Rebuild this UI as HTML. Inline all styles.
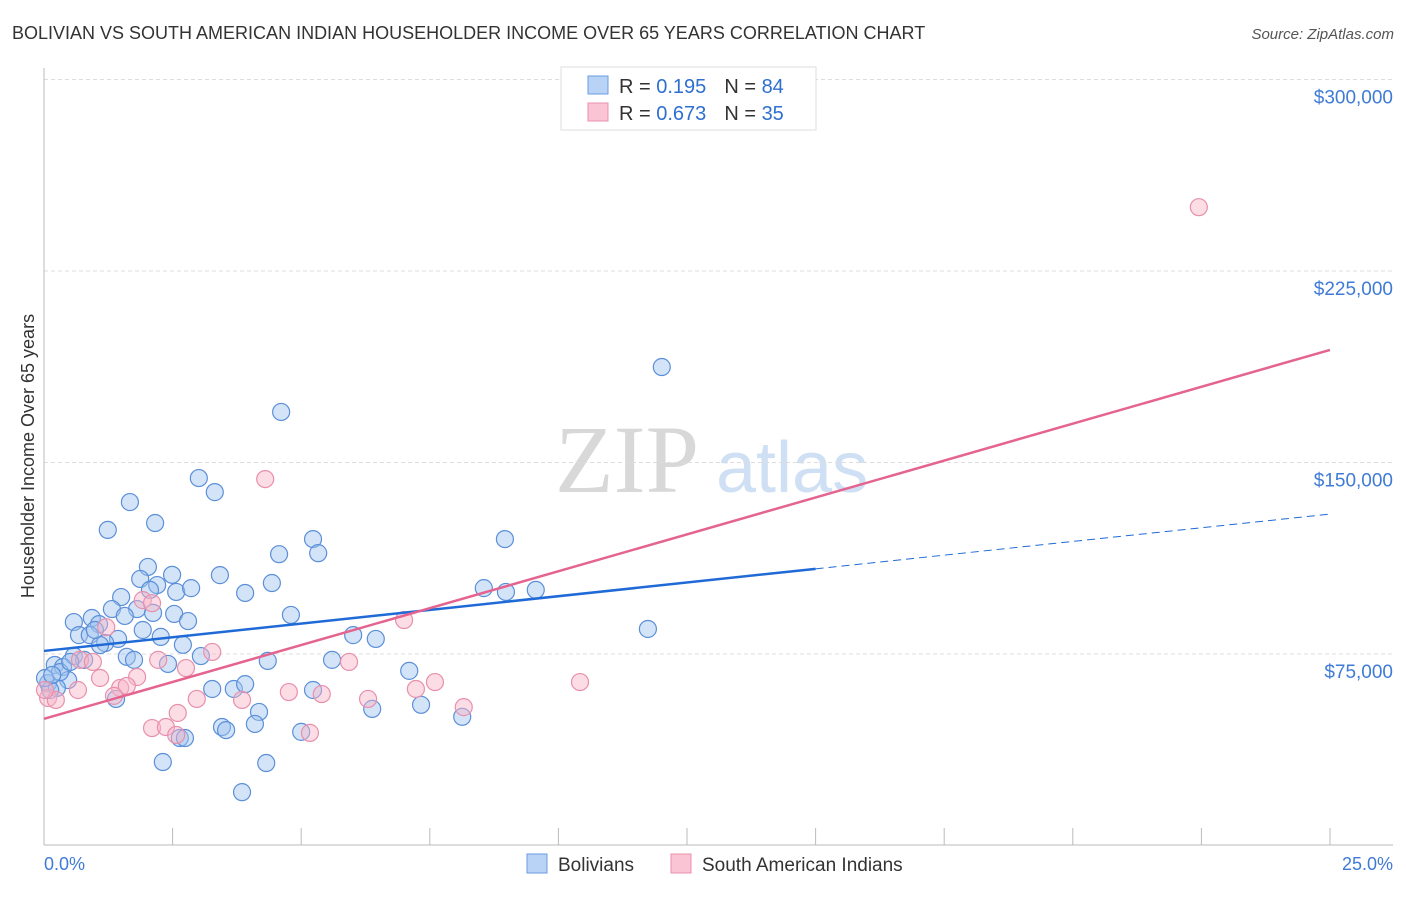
<!DOCTYPE html>
<html><head><meta charset="utf-8"><style>
body{margin:0;background:#fff;font-family:"Liberation Sans",sans-serif}
#c{position:relative;width:1406px;height:892px}
</style></head><body>
<div id="c">
<svg id="s" width="1406" height="892" xmlns="http://www.w3.org/2000/svg">
<text x="12" y="39" font-size="18" fill="#333">BOLIVIAN VS SOUTH AMERICAN INDIAN HOUSEHOLDER INCOME OVER 65 YEARS CORRELATION CHART</text>
<text x="1394" y="39" font-size="15" fill="#555" font-style="italic" text-anchor="end">Source: ZipAtlas.com</text>
<text x="555" y="492" font-size="96" fill="#d8d8d8" font-family="Liberation Serif,serif">ZIP</text>
<text x="716" y="492" font-size="72" fill="#cfe0f5">atlas</text>
<text transform="translate(34,456) rotate(-90)" font-size="18" fill="#333" text-anchor="middle">Householder Income Over 65 years</text>
<g id="grid"></g><g id="pts"></g><g id="lines"></g>
<g>
<rect x="561" y="67" width="255" height="63" fill="#fff" stroke="#ddd"/>
<rect x="588" y="76" width="20" height="18" fill="#b8d3f6" stroke="#6b9be0"/>
<rect x="588" y="103" width="20" height="18" fill="#fac4d4" stroke="#e890ab"/>
<text x="619" y="93" font-size="20" fill="#333">R = <tspan fill="#2f6fd0">0.195</tspan><tspan dx="18">N = </tspan><tspan fill="#2f6fd0">84</tspan></text>
<text x="619" y="120" font-size="20" fill="#333">R = <tspan fill="#2f6fd0">0.673</tspan><tspan dx="18">N = </tspan><tspan fill="#2f6fd0">35</tspan></text>
</g>
<text x="44" y="870" font-size="18" fill="#3f7bd6">0.0%</text>
<text x="1393" y="870" font-size="18" fill="#3f7bd6" text-anchor="end">25.0%</text>
<g>
<rect x="527" y="854" width="20" height="19" fill="#b8d3f6" stroke="#6b9be0"/>
<text x="558" y="871" font-size="19" fill="#333">Bolivians</text>
<rect x="671" y="854" width="20" height="19" fill="#fac4d4" stroke="#e890ab"/>
<text x="702" y="871" font-size="19" fill="#333">South American Indians</text>
</g>
</svg></div>
<script>
const yTicks=[75000,150000,225000,300000];
const yTickLabels=["$75,000","$150,000","$225,000","$300,000"];
const bx=[1.67,1.24,2.16,3.01,3.32,4.61,12.01,2.02,2.49,1.87,2.20,2.57,2.86,3.42,3.91,4.43,4.57,5.23,5.33,8.96,8.55,8.98,9.56,1.50,1.32,1.81,2.12,2.53,2.80,1.57,4.80,0.58,0.93,1.07,0.68,0.89,1.44,1.19,2.27,2.70,1.61,1.75,2.41,3.05,4.35,5.60,6.01,6.45,7.10,11.74,0.58,0.78,0.21,0.37,0.47,0.08,0.25,1.40,3.27,3.69,3.91,5.23,4.18,6.38,7.33,8.13,3.46,3.54,4.10,5.00,2.64,2.74,2.31,4.32,3.85,0.12,0.31,0.02,0.16,0.51,1.09,1.92,0.99,2.06];
const by=[134.5,123.6,126.3,143.9,138.4,169.8,187.4,109.1,106.0,104.4,102.0,99.3,100.8,105.9,98.9,102.8,114.1,120.0,114.5,120.0,100.8,99.3,100.1,97.3,92.6,92.6,91.1,90.7,87.9,89.9,90.3,87.5,89.1,86.7,82.4,82.4,80.9,79.3,81.7,78.6,73.9,72.7,71.1,74.2,72.3,72.7,82.4,80.9,68.4,84.8,74.2,72.7,70.7,69.9,64.8,63.6,61.7,57.4,61.3,61.3,63.2,60.9,52.3,53.5,55.1,50.4,46.4,45.2,47.6,44.5,42.1,42.1,32.7,32.3,20.9,60.9,67.9,65.6,66.8,71.9,78.5,84.4,84.4,100.1];
const px=[22.45,4.30,7.00,1.92,2.10,1.21,0.70,0.95,3.27,2.22,2.76,1.81,1.09,1.48,1.61,1.36,0.66,0.08,0.23,2.97,3.85,4.76,5.40,5.93,6.30,7.23,7.60,8.16,10.42,2.60,2.10,2.37,2.57,5.17,0.02];
const py=[250.0,143.5,88.3,96.1,94.9,85.5,72.7,71.9,75.8,72.7,69.5,66.0,65.6,61.7,62.5,58.6,60.9,57.8,57.0,57.4,57.0,60.1,59.3,71.9,57.4,61.3,64.0,54.2,64.0,51.9,46.0,46.4,43.3,44.1,60.9];
const blueTrend=[76.2,129.8];
const pinkTrend=[49.6,194.1];
const X=v=>44+v*51.44, Y=k=>845.5-k*1000*191.5/75000;
const NS="http://www.w3.org/2000/svg";
function mk(t,a,p){const e=document.createElementNS(NS,t);for(const k in a)e.setAttribute(k,a[k]);p.appendChild(e);return e;}
const g=document.getElementById('grid');
yTicks.forEach((t,i)=>{const y=Y(t/1000);
const l=mk('line',{x1:44,x2:1393,y1:y,y2:y,stroke:'#ddd','stroke-dasharray':'4,3'},g);


const tx=mk('text',{x:1393,y:y+24,'font-size':19,fill:'#3f7bd6','text-anchor':'end'},g);tx.textContent=yTickLabels[i];

});
mk('line',{x1:44,x2:44,y1:68,y2:845,stroke:'#bbb'},g);
mk('line',{x1:44,x2:1393,y1:845,y2:845,stroke:'#bbb'},g);
for(let i=1;i<=10;i++){const x=X(i*2.5);const t=mk('line',{x1:x,x2:x,y1:828,y2:845,stroke:'#bbb'},g);

}
const pg=document.getElementById('pts');
bx.forEach((v,i)=>{const c=mk('circle',{cx:X(v),cy:Y(by[i]),r:8.5,fill:'rgba(160,196,240,0.45)',stroke:'#5b8fd8','stroke-width':1.2},pg);

});
px.forEach((v,i)=>{const c=mk('circle',{cx:X(v),cy:Y(py[i]),r:8.5,fill:'rgba(248,180,200,0.45)',stroke:'#e890ab','stroke-width':1.2},pg);

});
const lg=document.getElementById('lines');
const bs=(blueTrend[1]-blueTrend[0])/25, xe=15;
let l1=mk('line',{x1:X(0),y1:Y(blueTrend[0]),x2:X(xe),y2:Y(blueTrend[0]+bs*xe),stroke:'#1f6ad6','stroke-width':2.5},lg);


let l2=mk('line',{x1:X(xe),y1:Y(blueTrend[0]+bs*xe),x2:X(25),y2:Y(blueTrend[1]),stroke:'#1f6ad6','stroke-width':1,'stroke-dasharray':'8,5'},lg);


let l3=mk('line',{x1:X(0),y1:Y(pinkTrend[0]),x2:X(25),y2:Y(pinkTrend[1]),stroke:'#e5648f','stroke-width':2.5},lg);


</script></body></html>
